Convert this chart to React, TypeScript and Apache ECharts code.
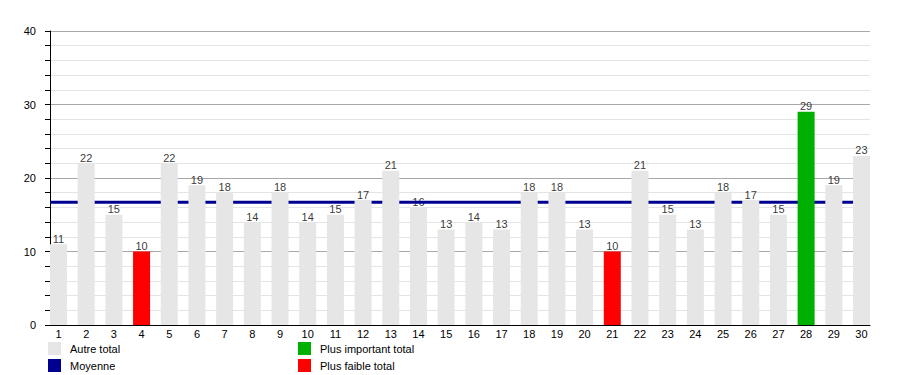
import React, { useEffect, useRef } from "react";
import * as echarts from "echarts";

const days = Array.from({ length: 30 }, (_, i) => i + 1);
const totals = [11, 22, 15, 10, 22, 19, 18, 14, 18, 14, 15, 17, 21, 16, 13, 14, 13, 18, 18, 13, 10, 21, 15, 13, 18, 17, 15, 29, 19, 23];
const yTicks = [0, 10, 20, 30, 40];
const legendLeft = ["Autre total", "Moyenne"];
const legendRight = ["Plus important total", "Plus faible total"];

const FONT = "'Liberation Sans', Arial, sans-serif";

export default function App() {
  const ref = useRef<HTMLDivElement>(null);
  useEffect(() => {
    document.body.style.margin = "0";
    const chart = echarts.init(ref.current!, null, { renderer: "svg" });
    const maxV = Math.max(...totals);
    const minV = Math.min(...totals);
    const mean = totals.reduce((a, b) => a + b, 0) / totals.length;
    const xMin = 0.693;
    const xMax = 30.307;
    const other: any[] = [];
    const highest: any[] = [];
    const lowest: any[] = [];
    totals.forEach((v, i) => {
      const d = days[i];
      if (v === maxV) highest.push([d, v]);
      else if (v === minV) lowest.push([d, v]);
      else other.push([d, v]);
    });
    const barCommon = {
      type: "bar",
      barWidth: 17,
      barGap: "-100%",
      z: 3,
    };
    chart.setOption({
      animation: false,
      textStyle: { fontFamily: FONT },
      grid: { left: 50, right: 30, top: 31, bottom: 50, containLabel: false },
      legend: [
        {
          data: legendLeft,
          orient: "vertical",
          left: 48,
          top: 342,
          padding: 0,
          itemWidth: 13,
          itemHeight: 13,
          itemGap: 4,
          icon: "rect",
          textStyle: { fontSize: 11, color: "#000", fontFamily: FONT, padding: [0, 0, 0, 4] },
        },
        {
          data: legendRight,
          orient: "vertical",
          left: 298,
          top: 342,
          padding: 0,
          itemWidth: 13,
          itemHeight: 13,
          itemGap: 4,
          icon: "rect",
          textStyle: { fontSize: 11, color: "#000", fontFamily: FONT, padding: [0, 0, 0, 4] },
        },
      ],
      xAxis: {
        type: "value",
        min: xMin,
        max: xMax,
        axisLine: { show: true, onZero: false, lineStyle: { color: "#000", width: 1 } },
        axisTick: { show: false },
        splitLine: { show: false },
        axisLabel: {
          customValues: days,
          fontSize: 11,
          color: "#000",
          margin: 3,
          fontFamily: FONT,
        },
      },
      yAxis: {
        type: "value",
        min: 0,
        max: 40,
        interval: 2,
        axisLine: { show: true, lineStyle: { color: "#000", width: 1 } },
        axisTick: { show: true, length: 5, lineStyle: { color: "#000" } },
        axisLabel: {
          fontSize: 11,
          color: "#000",
          margin: 14,
          fontFamily: FONT,
          formatter: (v: number) => (yTicks.includes(v) ? String(v) : ""),
        },
        splitLine: {
          show: true,
          lineStyle: { color: ["#a8a8a8", "#e4e4e4", "#e4e4e4", "#e4e4e4", "#e4e4e4"], width: 1 },
        },
      },
      series: [
        {
          name: "Valeurs",
          type: "scatter",
          symbolSize: 0.01,
          z: 1,
          silent: true,
          data: totals.map((v, i) => [days[i], v]),
          label: {
            show: true,
            position: "top",
            distance: 0,
            fontSize: 11,
            color: "#000",
            fontFamily: FONT,
            formatter: (p: any) => String(p.value[1]),
          },
          itemStyle: { color: "transparent" },
        },
        {
          name: "Moyenne",
          type: "line",
          z: 2,
          symbol: "none",
          data: [
            [xMin, mean],
            [xMax, mean],
          ],
          lineStyle: { color: "#000090", width: 3 },
          itemStyle: { color: "#000090" },
        },
        { ...barCommon, name: "Autre total", data: other, itemStyle: { color: "#e6e6e6" } },
        { ...barCommon, name: "Plus important total", data: highest, itemStyle: { color: "#00b000" } },
        { ...barCommon, name: "Plus faible total", data: lowest, itemStyle: { color: "#ff0000" } },
      ],
    });
    return () => chart.dispose();
  }, []);
  return <div ref={ref} style={{ width: 900, height: 375 }} />;
}
